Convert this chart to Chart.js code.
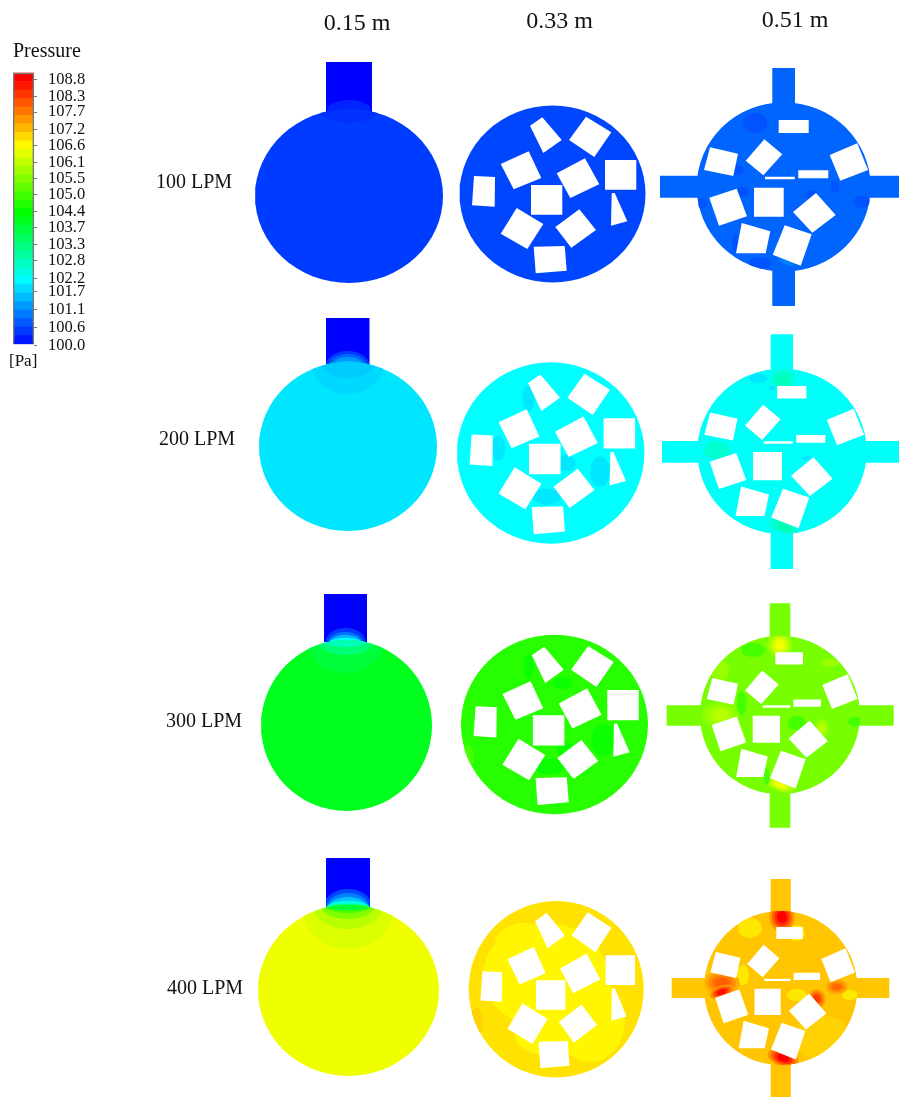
<!DOCTYPE html>
<html>
<head>
<meta charset="utf-8">
<title>Pressure contours</title>
<script src="https://cdn.jsdelivr.net/npm/chart.js@4/dist/chart.umd.min.js"></script>
<style>
html, body { margin: 0; padding: 0; background: #fff; }
#wrap { position: relative; width: 899px; height: 1097px; overflow: hidden; }
canvas { position: absolute; left: 0; top: 0; }
</style>
</head>
<body>
<div id="wrap">
  <canvas id="panels" width="899" height="1097"></canvas>
  <canvas id="bar" width="100" height="372"></canvas>
</div>
<script>
// colour bar
var tickLabels = ['100.0','100.6','101.1','101.7','102.2','102.8','103.3','103.7','104.4','105.0','105.5','106.1','106.6','107.2','107.7','108.3','108.8'];
var tickSpots = [100, 100.6, 101.2, 101.79, 102.23, 102.82, 103.35, 103.92, 104.45, 105.01, 105.55, 106.08, 106.64, 107.17, 107.74, 108.24, 108.8];
var bandEdges = [100.07,100.35,100.63,100.91,101.19,101.47,101.75,102.03,102.31,102.59,102.87,103.15,103.43,103.71,103.99,104.27,104.55,104.83,105.11,105.39,105.67,105.95,106.23,106.51,106.79,107.07,107.35,107.63,107.91,108.19,108.47,108.75,109.03];

// titles, [text, x, baseline y]
var columnTitles = [['0.15 m', 357, 29.5], ['0.33 m', 559.5, 27.5], ['0.51 m', 795, 26.5]];
var rowTitles = [['100 LPM', 156, 188], ['200 LPM', 159, 445], ['300 LPM', 166, 727], ['400 LPM', 167, 994]];

// [cx, cy, rx, ry] of the disc, one per flow rate
var leftDiscs = [[349,196,94,87], [348,446.5,89,84.5], [346.5,725.5,85.5,85.5], [348.5,990.5,90.5,85.5]];
var midDiscs = [[552.5,194,93,88.5], [550.7,453,93.7,90.7], [554.5,724.5,93.5,89.8], [556.2,989.2,87.5,88.2]];
var rightDiscs = [[783.7,187,87,84.7], [782,451.3,84.7,82.7], [780,715,80,79.2], [780.7,988,76.7,77]];

// disc pressure in Pa
var leftPressure = [100.52, 101.98, 104.14, 106.47];
var midPressure = [100.6, 102.2, 104.74, 106.85];
var rightPressure = [100.86, 102.25, 105.43, 107.1];

// inlet [x0, x1, y0, y1]
var leftInlets = [[326,372,62,112], [326,369.5,318,366], [324,367,594,642], [326,370,858,907]];
// arms [x0, x1, y0, y1, x0, x1, y0, y1] horizontal then vertical
var rightArms = [
    [660,899,175.7,197.7, 772.3,795,68,306],
    [662,899,441,462.7, 770.7,793,334.3,569],
    [666.7,893.7,705.3,725.7, 769.7,790.3,603.3,827.7],
    [671.7,889.3,978,998, 770.7,790.7,879,1097]
];

// contours at the inlet mouth [p, cx, cy, rx, ry]
var inletDomes = [
    [[100.3,349,110,22,10]],
    [[100.5,347.7,366,22,15],[100.9,347.7,366,19,12],[101.3,347.7,366,16,9],[101.7,347.7,366,12,5]],
    [[100.5,345.5,642,20,14],[101,345.5,642,17,10],[101.6,345.5,642,15,7],[102.2,345.5,642,16,4]],
    [[100.6,348,907,24,18],[101.1,348,907,21,14],[101.7,348,907,19,10],[102.5,348,907,21,6],[103.3,348,907,22,3]]
];
var mouthWakes = [
    [[100.42,349,109,30,14,0]],
    [[101.87,347.7,363,37,31,0],[101.75,347.7,363,27,15,0]],
    [[103.9,345.5,641,38,32,0],[103.4,345.5,641,28,14,0],[102.8,345.5,641,22,6,0]],
    [[106.3,348,906,46,43,0],[106,348,906,35,23,0],[105.5,348,906,27,13,0],[105,348,906,22,7,0],[103.9,348,906,25,4,0]]
];

// patches [p, cx, cy, rx, ry, angle in degrees]
var midPatches = [
    [],
    [[102,528.3,398.3,6,13,0],[102,498.3,448.3,7,12,0],[102,600,471.7,10,15,0],[102,546.7,496.7,14,8,0],[102,566.7,463,9,8,0]],
    [[104.5,528.3,666.7,5,12,0],[104.5,550,766.7,15,8,0],[104.5,603,740,12,16,0],[104.5,565,750,8,8,0],[104.5,563,683,10,6,0],[104.5,596.7,680,5,6,0],[105,468,756.7,6,12,0]],
    [[106.68,545,975,62,52,0],[106.68,590,1020,35,42,0],[106.68,525,945,30,22,0],[106.68,545,1035,30,20,0],[107,476.7,1021.7,6,14,0]]
];
var rightPatches = [
    [[100.72,755,123,12,10,0],[100.72,736.7,170,7,5,0],[100.72,743,191.7,6,5,0],[100.72,811.7,195,6,5,0],[100.72,835,186.7,4,6,0],[100.72,861.7,201.7,8,6,0],[100.72,701.7,203.3,5,5,0],[100.72,760,263,11,6,0],[100.72,735,243,3,9,0],[101.1,786.7,261.7,8,3,20]],
    [[102.8,783.3,380,11,11,0],[102.6,716.7,450,13,9,0],[102.9,783.3,526.7,13,6,20],[102,758.3,378.3,9,5,0],[102,806.7,458,5,2,0],[102,771.7,388,3,2,0]],
    [[106.5,780,645,10,10,0],[106,720,715,15,10,0],[106.5,780,785,12,5,20],[106,821.7,728,6,8,0],[105,753,650,12,7,0],[105,741.7,703,5,12,0],[105,796.7,723,9,7,0],[105,855,721.7,7,5,0],[105,766.7,776.7,3,8,0],[105.7,720,670,9,10,0],[105.7,830,663,9,4,0]],
    [[106.8,750,928,12,10,0],[106.8,743,975,6,10,0],[106.8,796.7,995,10,6,0],[106.8,850,995,8,5,0],[106.8,796.7,933,8,8,0],[107,823,1038,28,22,0],[108.8,782,917,10,12,0],[108,722,983,14,10,0],[108.7,721.7,992,10,5,-20],[108.8,783.3,1058,13,7,20],[108.3,816.7,999,7,8,0],[107.9,836.7,986.7,9,6,0]]
];

// obstacle corners as read from the 100 LPM row
var midObstacles = [
    [474,176, 495,177, 494.7,206.7, 472,205.3],
    [530,125.7, 542.3,117.3, 561.7,140, 543.3,153],
    [586,116.7, 611.3,132.3, 594.3,157, 569,140],
    [500.7,164, 528.7,151.3, 541.3,178, 513.7,189.3],
    [556.7,173.3, 585,158.3, 599.3,184.3, 570.3,198],
    [605,160, 636.3,160, 636.3,189.7, 605,189.7],
    [531,185, 562.3,185, 562.3,214.7, 531,214.7],
    [611.7,193.3, 614.7,193, 627.3,221.3, 611,225.7],
    [516.7,208, 543.3,224, 527.3,249, 500.7,233.7],
    [579.3,209.3, 596,230, 571.3,247.7, 555.3,227],
    [533.7,246.7, 564.7,246, 566.7,270.7, 535.7,273.3]
];
var rightObstacles = [
    [778.7,120, 808.7,120, 808.7,133, 778.7,133],
    [765,176.7, 794.7,176.7, 794.7,179.3, 765,179.3],
    [798.3,170.3, 828.3,170.3, 828.3,178.3, 798.3,178.3],
    [764.3,139.3, 782.3,154.3, 763.3,175.3, 745.7,160.7],
    [710,147.3, 738,153.7, 733.3,176, 704,170],
    [829.7,155, 857.3,143.3, 868,170, 840.3,180.7],
    [709.3,197.7, 736.7,188.7, 747,216.3, 719,225.7],
    [754,187.7, 783.7,187.7, 783.7,216.7, 754,216.7],
    [816,193, 835.7,215, 812.3,232.7, 793,212],
    [741.7,223, 770.3,231.3, 765.7,253.3, 736,253.3],
    [784.7,225.3, 811.7,234.3, 800.7,265.7, 772.7,254.7]
];

// blue - cyan - green - yellow - red, as on the colour bar
function pressureColor(p) {
    var t = Math.min(1, Math.max(0, (p - 100) / 8.8)) * 4;
    var k = Math.min(3, Math.floor(t));
    var f = t - k;
    var v = Math.round(255 * f);
    var w = 255 - v;
    if (k == 0) return 'rgb(0,' + v + ',255)';
    if (k == 1) return 'rgb(0,255,' + w + ')';
    if (k == 2) return 'rgb(' + v + ',255,0)';
    return 'rgb(255,' + w + ',0)';
}

var shapes = [];

function addShape(points, color) {
    shapes.push({
        data: points,
        backgroundColor: color,
        borderWidth: 0,
        pointRadius: 0,
        fill: 'shape'
    });
}

function outline(cx, cy, rx, ry, deg) {
    var a = (deg || 0) * Math.PI / 180;
    var pts = [];
    for (var i = 0; i < 64; i++) {
        var s = i / 64 * 2 * Math.PI;
        var dx = rx * Math.cos(s), dy = ry * Math.sin(s);
        pts.push({x: cx + dx * Math.cos(a) - dy * Math.sin(a), y: cy + dx * Math.sin(a) + dy * Math.cos(a)});
    }
    return pts;
}

// pull points back onto the disc edge so contours do not spill out
function keepInDisc(pts, disc) {
    return pts.map(function(p) {
        var nx = (p.x - disc[0]) / disc[2], ny = (p.y - disc[1]) / disc[3];
        var r = Math.sqrt(nx * nx + ny * ny);
        if (r <= 1) return p;
        return {x: disc[0] + nx / r * disc[2], y: disc[1] + ny / r * disc[3]};
    });
}

function addBox(b, color) {
    addShape([{x: b[0], y: b[2]}, {x: b[1], y: b[2]}, {x: b[1], y: b[3]}, {x: b[0], y: b[3]}], color);
}

function addObstacles(list, from, to) {
    list.forEach(function(c) {
        var pts = [];
        for (var i = 0; i < c.length; i += 2) {
            pts.push({
                x: to[0] + (c[i] - from[0]) / from[2] * to[2],
                y: to[1] + (c[i + 1] - from[1]) / from[3] * to[3]
            });
        }
        addShape(pts, '#fff');
    });
}

// strong patches get a few rings so they fade like the contour bands
function addPatches(list, disc, base) {
    list.forEach(function(b) {
        var rings = Math.abs(b[0] - base) > 0.45 ? 4 : 1;
        for (var k = 1; k <= rings; k++) {
            var f = rings == 1 ? 1 : 1.5 - k * 0.25;
            var p = base + (b[0] - base) * k / rings;
            addShape(keepInDisc(outline(b[1], b[2], b[3] * f, b[4] * f, b[5]), disc), pressureColor(p));
        }
    });
}

for (var row = 0; row < 4; row++) {
    // left column
    var inlet = leftInlets[row];
    addBox(inlet, pressureColor(100));
    inletDomes[row].forEach(function(b) {
        var pts = outline(b[1], b[2], b[3], b[4]).map(function(p) {
            return {x: Math.min(inlet[1], Math.max(inlet[0], p.x)), y: p.y};
        });
        addShape(pts, pressureColor(b[0]));
    });
    addShape(outline(leftDiscs[row][0], leftDiscs[row][1], leftDiscs[row][2], leftDiscs[row][3]), pressureColor(leftPressure[row]));
    mouthWakes[row].forEach(function(b) {
        addPatches([b], leftDiscs[row], b[0]);
    });

    // middle column
    addShape(outline(midDiscs[row][0], midDiscs[row][1], midDiscs[row][2], midDiscs[row][3]), pressureColor(midPressure[row]));
    addPatches(midPatches[row], midDiscs[row], midPressure[row]);
    addObstacles(midObstacles, midDiscs[0], midDiscs[row]);

    // right column
    var arm = rightArms[row];
    addBox(arm.slice(0, 4), pressureColor(rightPressure[row]));
    addBox(arm.slice(4), pressureColor(rightPressure[row]));
    addShape(outline(rightDiscs[row][0], rightDiscs[row][1], rightDiscs[row][2], rightDiscs[row][3]), pressureColor(rightPressure[row]));
    addPatches(rightPatches[row], rightDiscs[row], rightPressure[row]);
    addObstacles(rightObstacles, rightDiscs[0], rightDiscs[row]);
}

// first dataset is painted last, so flip
shapes.reverse();

var panelText = {
    id: 'panelText',
    afterDatasetsDraw: function(chart) {
        var c = chart.ctx, xs = chart.scales.x, ys = chart.scales.y;
        c.save();
        c.fillStyle = '#111';
        c.textBaseline = 'alphabetic';
        c.textAlign = 'center';
        c.font = '24px "Liberation Serif"';
        columnTitles.forEach(function(t) {
            c.fillText(t[0], xs.getPixelForValue(t[1]), ys.getPixelForValue(t[2]));
        });
        c.textAlign = 'left';
        c.font = '20px "Liberation Serif"';
        rowTitles.forEach(function(t) {
            c.fillText(t[0], xs.getPixelForValue(t[1]), ys.getPixelForValue(t[2]));
        });
        c.fillText('Pressure', xs.getPixelForValue(13), ys.getPixelForValue(57));
        c.font = '17px "Liberation Serif"';
        c.fillText('[Pa]', xs.getPixelForValue(9), ys.getPixelForValue(366));
        c.restore();
    }
};

new Chart(document.getElementById('panels'), {
    type: 'line',
    data: {datasets: shapes},
    plugins: [panelText],
    options: {
        responsive: false,
        animation: false,
        layout: {padding: 0},
        plugins: {legend: {display: false}, tooltip: {enabled: false}},
        scales: {
            x: {type: 'linear', min: 0, max: 899, display: false},
            y: {type: 'linear', min: 0, max: 1097, reverse: true, display: false}
        }
    }
});

// colour bar, one floating bar per band
var bands = [];
for (var i = 0; i < bandEdges.length - 1; i++) {
    bands.push({
        data: [[bandEdges[i], bandEdges[i + 1]]],
        backgroundColor: pressureColor((bandEdges[i] + bandEdges[i + 1]) / 2),
        grouped: false,
        barPercentage: 1,
        categoryPercentage: 1
    });
}
bands.unshift({
    data: [[bandEdges[0], bandEdges[bandEdges.length - 1]]],
    backgroundColor: 'rgba(0,0,0,0)',
    borderColor: '#777',
    borderWidth: 1,
    grouped: false,
    barPercentage: 1,
    categoryPercentage: 1
});

new Chart(document.getElementById('bar'), {
    type: 'bar',
    data: {labels: ['Pressure'], datasets: bands},
    options: {
        responsive: false,
        animation: false,
        layout: {padding: {left: 13, top: 70, bottom: 10, right: 0}},
        plugins: {legend: {display: false}, tooltip: {enabled: false}},
        scales: {
            x: {display: false},
            y: {
                position: 'right',
                min: 99.83,
                max: 109.13,
                afterBuildTicks: function(s) {
                    s.ticks = tickSpots.map(function(v) { return {value: v}; });
                },
                afterFit: function(s) { s.width = 66; },
                ticks: {
                    autoSkip: false,
                    padding: 11,
                    color: '#111',
                    font: {family: '"Liberation Serif"', size: 16.5},
                    callback: function(v, i) { return tickLabels[i]; }
                },
                grid: {drawOnChartArea: false, drawTicks: true, tickLength: 3, color: '#777'},
                border: {display: false}
            }
        }
    }
});
</script>
</body>
</html>
